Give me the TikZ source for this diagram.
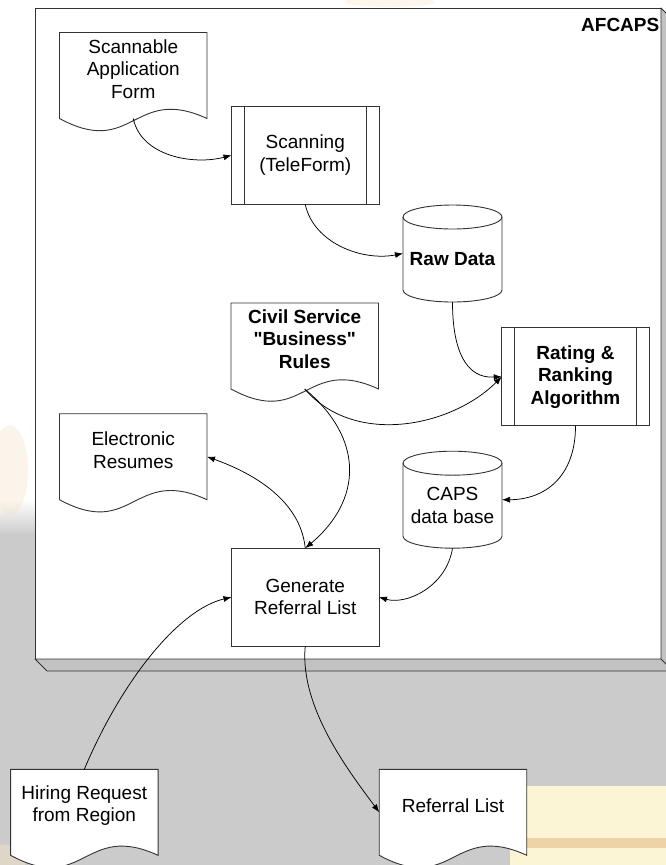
\documentclass[tikz,border=0pt]{standalone}
\usepackage{fontspec}
\setmainfont{Liberation Sans}[Ligatures=TeXOff]
\usetikzlibrary{arrows.meta,calc}
\definecolor{bggray}{HTML}{CBCBCB}
\definecolor{edgec}{HTML}{333333}
\definecolor{depthc}{HTML}{C2C2C2}
\definecolor{creamc}{HTML}{FBF5D6}
\definecolor{tanc}{HTML}{EDD3A6}
\definecolor{blobc}{HTML}{F6E2C4}
\newcommand{\docoutline}[1]{%
  \path[outline] (#1.north west) -- (#1.north east) -- (#1.south east)
    .. controls +(-73.75,-34) and +(73.75,40) .. (#1.south west) -- cycle;}
\newcommand{\cyloutline}[1]{%
  \path[outline] ([yshift=-12pt]#1.north west) -- ([yshift=12pt]#1.south west)
    arc[start angle=180,end angle=360,x radius=49.5pt,y radius=12pt]
    -- ([yshift=-12pt]#1.north east)
    arc[start angle=0,end angle=180,x radius=49.5pt,y radius=12pt] -- cycle;
  \draw[draw=edgec,line width=0.9pt] ([yshift=-12pt]#1.north west)
    arc[start angle=180,end angle=360,x radius=49.5pt,y radius=12pt];}
\newcommand{\procbars}[1]{%
  \draw[draw=edgec,line width=0.9pt] ([xshift=12.5pt]#1.north west) -- ([xshift=12.5pt]#1.south west);
  \draw[draw=edgec,line width=0.9pt] ([xshift=-12.5pt]#1.north east) -- ([xshift=-12.5pt]#1.south east);}
\begin{document}
\begin{tikzpicture}[x=1pt,y=-1pt,
  box/.style={draw=none, minimum width=147.5pt, inner sep=0pt, outer sep=0pt},
  docbox/.style={box, minimum height=86pt},
  procbox/.style={box, draw=edgec, fill=white, line width=0.9pt, minimum height=98pt, align=center,
    font=\fontsize{19}{22.5}\selectfont},
  cylbox/.style={box, minimum width=99pt, minimum height=97pt},
  outline/.style={draw=edgec, fill=white, line width=0.9pt},
  txt/.style={font=\fontsize{19}{22.5}\selectfont, align=center, inner sep=0pt},
  btxt/.style={font=\fontsize{19}{22.5}\selectfont\bfseries, align=center, inner sep=0pt},
  flow/.style={draw=black, line width=0.75pt, -{Latex[length=8pt,width=6pt]}},
]
\useasboundingbox (0,0) rectangle (666,865);
% background
\fill[bggray] (0,0) rectangle (666,865);
\fill[white] (0,0) rectangle (666,500);
\shade[top color=white, bottom color=bggray] (0,499) rectangle (666,535);
\fill[blobc, opacity=0.35] (10,470) ellipse[x radius=18pt, y radius=45pt];
\fill[blobc, opacity=0.3] (390,2) ellipse[x radius=45pt, y radius=5pt];
\fill[creamc] (510,786) rectangle (666,865);
\fill[tanc] (510,838) rectangle (666,848);
\fill[blobc, opacity=0.5] (0,845) rectangle (25,865);

% outer 3D box
\node[draw=edgec, fill=white, line width=0.9pt, minimum width=626pt, minimum height=651pt,
      inner sep=0pt, outer sep=0pt] (afcaps) at (348,333.5) {};
\path[draw=edgec, fill=depthc, line width=0.9pt, line join=round]
  (afcaps.south west) -- ([xshift=12pt,yshift=-12pt]afcaps.south west)
  -- ([xshift=12pt,yshift=-12pt]afcaps.south east)
  -- ([xshift=12pt,yshift=-12pt]afcaps.north east) -- (afcaps.north east)
  -- (afcaps.south east) -- cycle;
\draw[draw=edgec, line width=0.9pt] (afcaps.south east) -- ([xshift=12pt,yshift=-12pt]afcaps.south east);
\node[btxt, anchor=base east] (afcapst) at ([xshift=-1.5pt,yshift=-23pt]afcaps.north east) {AFCAPS};

% Scannable Application Form
\node[docbox] (scan) at (133.25,75.5) {};
\docoutline{scan}
\node[txt] (scant) at ([yshift=6.5pt]scan.center) {Scannable\\Application\\Form};

% Scanning
\node[procbox] (scanning) at (305.25,155.3) {Scanning\\(TeleForm)};
\procbars{scanning}

% Raw Data
\node[cylbox] (raw) at (452.5,253.5) {};
\cyloutline{raw}
\node[btxt] (rawt) at ([yshift=-6pt]raw.center) {Raw Data};

% Civil Service Business Rules
\node[docbox] (civil) at (304.75,346) {};
\docoutline{civil}
\node[btxt] (civilt) at ([yshift=7pt]civil.center) {Civil Service\\"Business"\\Rules};

% Rating & Ranking
\node[procbox, font=\fontsize{19}{22.5}\selectfont\bfseries] (rating) at (575.5,376.7) {Rating \&\\Ranking\\Algorithm};
\procbars{rating}

% Electronic Resumes
\node[docbox] (eres) at (133.25,456.7) {};
\docoutline{eres}
\node[txt] (erest) at ([yshift=6.5pt]eres.center) {Electronic\\Resumes};

% CAPS data base
\node[cylbox] (caps) at (452.5,499.7) {};
\cyloutline{caps}
\node[txt] (capst) at ([yshift=-6pt]caps.center) {CAPS\\data base};

% Generate Referral List
\node[procbox] (gen) at (305.25,597.2) {Generate\\Referral List};

% Hiring Request
\node[docbox] (hire) at (84.3,812.3) {};
\docoutline{hire}
\node[txt] (hiret) at ([yshift=6.5pt]hire.center) {Hiring Request\\from Region};

% Referral List
\node[docbox] (refl) at (453,812.3) {};
\docoutline{refl}
\node[txt] (reflt) at ([yshift=6.5pt]refl.center) {Referral List};

% connectors
\draw[flow] (scan.south) .. controls +(8,38) and +(-38,10) .. (scanning.west);
\draw[flow] (scanning.south) .. controls +(8,38) and +(-42,8) .. (raw.west);
\draw[flow] (raw.south) .. controls +(0,48) and +(-36,2) .. (rating.west);
\draw[flow] (civil.south) .. controls +(50,58) and +(-50,50) .. (rating.west);
\draw[flow] (civil.south) .. controls +(60,50) and +(57,-48) .. (gen.north);
\draw[flow] (gen.north) .. controls +(-5,-50) and +(42,15) .. (eres.east);
\draw[flow] (rating.south) .. controls +(0,52) and +(42,0) .. (caps.east);
\draw[flow] (caps.south) .. controls +(-6,38) and +(28,8) .. (gen.east);
\draw[flow] (hire.north) .. controls +(38,-90) and +(-52,12) .. (gen.west);
\draw[flow] (gen.south) .. controls +(-6,62) and +(-28,-38) .. (refl.west);
\end{tikzpicture}
\end{document}
